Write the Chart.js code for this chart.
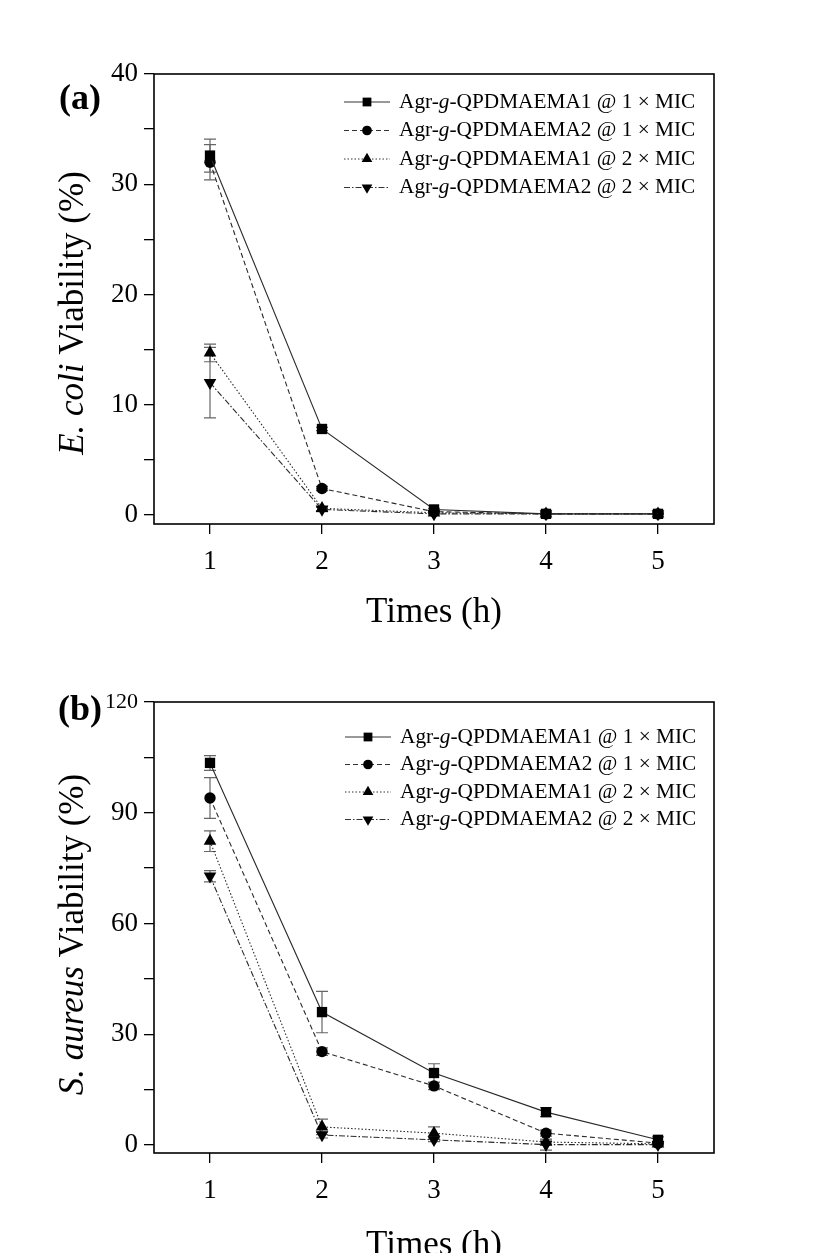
<!DOCTYPE html>
<html><head><meta charset="utf-8">
<script src="https://cdn.jsdelivr.net/npm/chart.js@4.4.1/dist/chart.umd.min.js"></script>
<style>
html,body{margin:0;padding:0;background:#fff;overflow:hidden;width:813px;height:1253px;}
.wrap{position:absolute;left:0;width:813px;}
canvas{display:block;}
</style></head><body>
<div class="wrap" style="top:0px;height:640px"><canvas id="c1" width="813" height="640" style="width:813px;height:640px"></canvas></div>
<div class="wrap" style="top:626px;height:650px"><canvas id="c2" width="813" height="650" style="width:813px;height:650px"></canvas></div>
<script>
// ---------------- data ----------------
const times = [1, 2, 3, 4, 5];
const seriesLabels = [
  'Agr-g-QPDMAEMA1 @ 1 × MIC',
  'Agr-g-QPDMAEMA2 @ 1 × MIC',
  'Agr-g-QPDMAEMA1 @ 2 × MIC',
  'Agr-g-QPDMAEMA2 @ 2 × MIC'
];
// (a) E. coli viability (%)
const ecoliQ1x1 = [32.6, 7.8, 0.5, 0.1, 0.1];
const ecoliQ2x1 = [32.0, 2.4, 0.3, 0.1, 0.1];
const ecoliQ1x2 = [14.7, 0.6, 0.2, 0.1, 0.1];
const ecoliQ2x2 = [12.0, 0.5, 0.1, 0.1, 0.1];
const ecoliErrQ1x1 = [1.5, 0.15, 0.1, 0.05, 0.05];
const ecoliErrQ2x1 = [1.6, 0.2, 0.1, 0.05, 0.05];
const ecoliErrQ1x2 = [0.8, 0.2, 0.1, 0.05, 0.05];
const ecoliErrQ2x2 = [3.2, 0.2, 0.05, 0.05, 0.05];
// (b) S. aureus viability (%)
const saurQ1x1 = [103.5, 36.0, 19.5, 8.9, 1.4];
const saurQ2x1 = [94.0, 25.3, 16.0, 3.2, 0.5];
const saurQ1x2 = [82.3, 4.9, 3.2, 0.8, 0.3];
const saurQ2x2 = [72.8, 2.7, 1.4, 0.1, 0.1];
const saurErrQ1x1 = [2.0, 5.6, 2.5, 1.2, 0.8];
const saurErrQ2x1 = [5.5, 1.0, 1.0, 0.8, 0.3];
const saurErrQ1x2 = [2.8, 2.1, 1.7, 0.5, 0.2];
const saurErrQ2x2 = [1.5, 0.8, 0.5, 1.5, 0.2];
// tick labels
const xTickValues = [1, 2, 3, 4, 5];
const ecoliYTicks = [0, 10, 20, 30, 40];
const saurYTicks = [0, 30, 60, 90, 120];
const xTitle = 'Times (h)';
const ecoliYTitle = [['E. coli', true], [' Viability (%)', false]];
const saurYTitle = [['S. aureus', true], [' Viability (%)', false]];

// ---------------- styles ----------------
const FONT = "'Liberation Serif', 'Times New Roman', serif";
const styles = [
  {pointStyle: 'rect', radius: 7.3, rotation: 0, dash: []},
  {pointStyle: 'circle', radius: 5.7, rotation: 0, dash: [5, 3]},
  {pointStyle: 'triangle', radius: 7.3, rotation: 0, dash: [1.5, 2]},
  {pointStyle: 'triangle', radius: 7.3, rotation: 180, dash: [6, 2, 1.5, 2]}
];

function makeDatasets(seriesList, errList) {
  return seriesList.map((vals, i) => ({
    label: seriesLabels[i],
    data: times.map((t, j) => ({x: t, y: vals[j]})),
    errors: errList[i],
    borderColor: '#2a2a2a',
    borderWidth: 1.1,
    borderDash: styles[i].dash,
    pointStyle: styles[i].pointStyle,
    pointRadius: styles[i].radius,
    pointRotation: styles[i].rotation,
    pointBackgroundColor: '#000',
    pointBorderColor: '#000',
    pointBorderWidth: 0,
    tension: 0,
    fill: false,
    clip: false
  }));
}

// ---------------- plugins ----------------
function drawMarker(ctx, style, r, rot, x, y) {
  ctx.save();
  ctx.translate(x, y);
  ctx.rotate(rot * Math.PI / 180);
  ctx.beginPath();
  if (style === 'rect') {
    const s = Math.SQRT1_2 * r;
    ctx.rect(-s, -s, 2 * s, 2 * s);
  } else if (style === 'circle') {
    ctx.arc(0, 0, r, 0, Math.PI * 2);
  } else {
    ctx.moveTo(0, -r);
    ctx.lineTo(r * Math.sin(Math.PI * 2 / 3), -r * Math.cos(Math.PI * 2 / 3));
    ctx.lineTo(-r * Math.sin(Math.PI * 2 / 3), -r * Math.cos(Math.PI * 2 / 3));
    ctx.closePath();
  }
  ctx.fillStyle = '#000';
  ctx.fill();
  ctx.restore();
}

const framePlugin = {
  id: 'frame',
  afterDraw(chart) {
    const {ctx, chartArea: a} = chart;
    ctx.save();
    ctx.strokeStyle = '#000';
    ctx.lineWidth = 1.6;
    ctx.strokeRect(a.left, a.top, a.right - a.left, a.bottom - a.top);
    ctx.restore();
  }
};

const errorBarPlugin = {
  id: 'errorBars',
  beforeDatasetsDraw(chart) {
    const {ctx} = chart;
    const ys = chart.scales.y;
    ctx.save();
    ctx.strokeStyle = '#666';
    ctx.lineWidth = 1.2;
    chart.data.datasets.forEach((ds, i) => {
      const meta = chart.getDatasetMeta(i);
      meta.data.forEach((pt, j) => {
        const v = ds.data[j].y, e = ds.errors[j];
        if (!e) return;
        const yt = ys.getPixelForValue(v + e), yb = ys.getPixelForValue(v - e);
        const x = pt.x, w = 6;
        ctx.beginPath();
        ctx.moveTo(x, yt); ctx.lineTo(x, yb);
        ctx.moveTo(x - w, yt); ctx.lineTo(x + w, yt);
        ctx.moveTo(x - w, yb); ctx.lineTo(x + w, yb);
        ctx.stroke();
      });
    });
    ctx.restore();
  }
};

function drawSegments(ctx, segs, size, cx, cy, align) {
  let total = 0;
  const widths = segs.map(([t, it]) => {
    ctx.font = (it ? 'italic ' : '') + size + 'px ' + FONT;
    const w = ctx.measureText(t).width; total += w; return w;
  });
  let x = align === 'left' ? cx : cx - total / 2;
  segs.forEach(([t, it], k) => {
    ctx.font = (it ? 'italic ' : '') + size + 'px ' + FONT;
    ctx.fillText(t, x, cy);
    x += widths[k];
  });
}

const annotPlugin = {
  id: 'annot',
  afterDraw(chart, args, opts) {
    const {ctx, chartArea: a} = chart;
    ctx.save();
    ctx.fillStyle = '#000';
    ctx.textBaseline = 'middle';
    // panel label
    ctx.font = 'bold ' + opts.panelSize + 'px ' + FONT;
    ctx.textAlign = 'center';
    ctx.fillText(opts.panel, opts.panelX, opts.panelY);
    ctx.textAlign = 'left';
    // y title (rotated, mixed italic)
    ctx.save();
    ctx.translate(opts.yTitleX, (a.top + a.bottom) / 2 + opts.yTitleDy);
    ctx.rotate(-Math.PI / 2);
    drawSegments(ctx, opts.yTitle, opts.yTitleSize, 0, 0, 'center');
    ctx.restore();
    // legend
    chart.data.datasets.forEach((ds, i) => {
      const y = opts.legY + i * opts.legStep;
      ctx.save();
      ctx.strokeStyle = '#333';
      ctx.lineWidth = 1;
      ctx.setLineDash(ds.borderDash || []);
      ctx.beginPath();
      ctx.moveTo(opts.legLineX0, y); ctx.lineTo(opts.legLineX1, y);
      ctx.stroke();
      ctx.restore();
      drawMarker(ctx, ds.pointStyle, ds.pointRadius * 0.85, ds.pointRotation,
                 (opts.legLineX0 + opts.legLineX1) / 2, y);
      const parts = ds.label.split('-g-');
      const segs = [[parts[0] + '-', false], ['g', true], ['-' + parts[1], false]];
      drawSegments(ctx, segs, opts.legSize, opts.legTextX, y, 'left');
    });
    ctx.restore();
  }
};

function makeChart(id, datasets, yMin, yMax, yStep, yTickList, cfg) {
  return new Chart(document.getElementById(id), {
    type: 'line',
    data: {datasets},
    plugins: [errorBarPlugin, framePlugin, annotPlugin],
    options: {
      responsive: false,
      animation: false,
      events: [],
      layout: {padding: {top: cfg.padTop, left: 0, right: 99, bottom: cfg.padBottom}},
      plugins: {
        legend: {display: false},
        tooltip: {enabled: false},
        annot: cfg.annot
      },
      scales: {
        x: {
          type: 'linear', min: 0.5, max: 5.5,
          afterBuildTicks: s => { s.ticks = xTickValues.map(v => ({value: v})); },
          ticks: {font: {family: FONT, size: 27}, color: '#000', padding: 12, maxRotation: 0},
          grid: {display: true, drawOnChartArea: false, drawTicks: true, tickLength: 10, color: '#000', lineWidth: 1.3},
          border: {display: false},
          title: {display: true, text: xTitle, color: '#000', font: {family: FONT, size: 35}, padding: 0},
          afterFit: s => { s.height = cfg.xHeight; }
        },
        y: {
          min: yMin, max: yMax,
          afterBuildTicks: s => {
            const t = [];
            for (let v = 0; v <= yMax + 1e-9; v += yStep) t.push({value: v});
            s.ticks = t;
          },
          ticks: {
            font: c => ({family: FONT, size: (c.tick && c.tick.value >= 100) ? 22 : 27}),
            color: '#000', padding: 6,
            callback: v => (yTickList.includes(v) ? String(v) : '')
          },
          grid: {display: true, drawOnChartArea: false, drawTicks: true, tickLength: 10, color: '#000', lineWidth: 1.3},
          border: {display: false},
          title: {display: false, text: cfg.yTitleText},
          afterFit: s => { s.width = 154; }
        }
      }
    }
  });
}

makeChart('c1',
  makeDatasets([ecoliQ1x1, ecoliQ2x1, ecoliQ1x2, ecoliQ2x2], [ecoliErrQ1x1, ecoliErrQ2x1, ecoliErrQ1x2, ecoliErrQ2x2]),
  -0.82, 40, 5, ecoliYTicks,
  {padTop: 74, padBottom: 6, xHeight: 110, yTitleText: 'E. coli Viability (%)',
   annot: {panel: '(a)', panelSize: 36, panelX: 80, panelY: 100,
           yTitle: ecoliYTitle, yTitleSize: 35, yTitleX: 74, yTitleDy: 14,
           legY: 102, legStep: 28.5, legLineX0: 344, legLineX1: 390, legTextX: 399, legSize: 21.3}});

makeChart('c2',
  makeDatasets([saurQ1x1, saurQ2x1, saurQ1x2, saurQ2x2], [saurErrQ1x1, saurErrQ2x1, saurErrQ1x2, saurErrQ2x2]),
  -2.17, 120, 15, saurYTicks,
  {padTop: 76, padBottom: 9, xHeight: 114, yTitleText: 'S. aureus Viability (%)',
   annot: {panel: '(b)', panelSize: 36, panelX: 80, panelY: 85,
           yTitle: saurYTitle, yTitleSize: 35, yTitleX: 74, yTitleDy: 7,
           legY: 111, legStep: 27.5, legLineX0: 345, legLineX1: 391, legTextX: 400, legSize: 21.3}});
</script>
</body></html>
